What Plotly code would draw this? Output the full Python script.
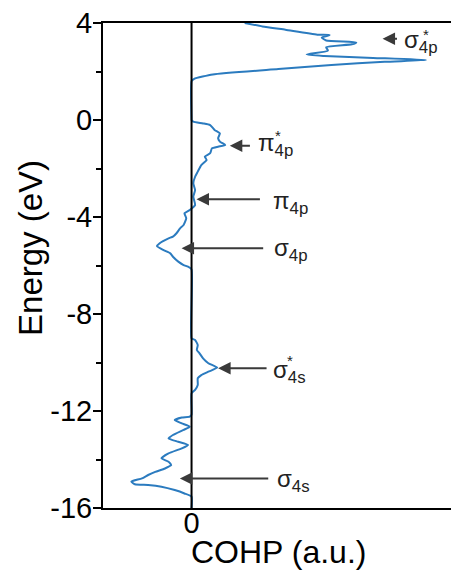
import plotly.graph_objects as go

# COHP curve (energy in eV, COHP in arbitrary units)
energy = [
    4.00, 3.86, 3.72, 3.52, 3.50, 3.40, 3.28, 3.20, 3.12, 3.00, 2.86, 2.70, 2.64, 2.56, 2.47, 2.40, 2.27, 2.10, 1.88, 1.70, 1.60,
    0.02,
    0.00, -0.07, -0.14, -0.21, -0.41, -0.55, -0.75, -0.89, -1.03, -1.10, -1.17, -1.37, -1.51, -1.65, -1.86, -2.13, -2.34,
    -2.61, -2.89, -3.16, -3.51, -3.71, -3.85, -4.05, -4.33, -4.47, -4.67, -4.81, -4.88, -5.08, -5.20, -5.36, -5.50, -5.64,
    -5.84, -5.98, -6.05, -6.16,
    -9.00, -9.07, -9.28, -9.48, -9.62, -9.83, -10.03, -10.21, -10.38, -10.52, -10.65, -10.93, -11.13, -11.27,
    -12.15, -12.23, -12.27, -12.37, -12.51, -12.65, -12.78, -12.99, -13.13, -13.27, -13.40, -13.54, -13.75, -13.95, -14.09,
    -14.23, -14.37, -14.51, -14.64, -14.78, -14.91, -15.02, -15.05, -15.12, -15.26, -15.40, -15.53, -16.00,
]
cohp = [
    0.60, 0.80, 1.06, 1.42, 1.56, 1.47, 1.52, 1.86, 1.81, 1.52, 1.54, 1.30, 1.50, 2.05, 2.65, 2.18, 1.58, 0.98, 0.24, 0.03, 0.00,
    0.00,
    0.00, 0.02, 0.13, 0.21, 0.26, 0.32, 0.30, 0.32, 0.38, 0.30, 0.23, 0.21, 0.15, 0.17, 0.11, 0.07, 0.04,
    0.02, 0.04, 0.02, 0.04, -0.02, -0.08, -0.06, -0.09, -0.13, -0.17, -0.21, -0.26, -0.36, -0.39, -0.32, -0.24, -0.21,
    -0.15, -0.09, -0.04, 0.00,
    0.00, 0.04, 0.07, 0.06, 0.09, 0.13, 0.19, 0.29, 0.19, 0.11, 0.07, 0.07, 0.04, 0.00,
    0.00, -0.02, -0.11, -0.19, -0.11, -0.02, -0.09, -0.21, -0.26, -0.15, -0.04, -0.11, -0.26, -0.34, -0.26,
    -0.23, -0.30, -0.41, -0.49, -0.56, -0.68, -0.64, -0.49, -0.34, -0.19, -0.08, 0.00, 0.00,
]

y_ticks = [-16, -12, -8, -4, 0, 4]
x_ticks = [0]

# Orbital labels: arrow tip, arrow tail, energy, label text, label position
labels = ["σ<sub>4p</sub>", "π<sub>4p</sub>", "π<sub>4p</sub>", "σ<sub>4p</sub>", "σ<sub>4s</sub>", "σ<sub>4s</sub>"]
arrow_tip = [2.157, 0.432, 0.056, -0.113, 0.30, -0.132]
arrow_tail = [2.337, 0.676, 0.789, 0.826, 0.864, 0.883]
arrow_e = [3.353, -1.06, -3.27, -5.29, -10.24, -14.78]
label_x = [2.371, 0.725, 0.894, 0.913, 0.894, 0.939]
label_e = [3.22, -1.03, -3.42, -5.36, -10.37, -14.85]
star_x = [2.653, 0.973, 1.108]
star_e = [3.53, -0.64, -9.92]

FONT = "Liberation Sans, Arial, sans-serif"
ARROW = "#3a3a3a"

fig = go.Figure()
fig.add_trace(go.Scatter(
    x=cohp, y=energy, mode="lines",
    line=dict(color="#2b7bbf", width=2, shape="spline", smoothing=0.5),
    hoverinfo="skip", showlegend=False,
))

fig.add_shape(type="line", xref="x", yref="y", x0=0, x1=0, y0=-16, y1=4,
              line=dict(color="black", width=2), layer="above")

ann = []
for tip, tail, e in zip(arrow_tip, arrow_tail, arrow_e):
    ann.append(dict(x=tip, y=e, ax=tail, ay=e, xref="x", yref="y", axref="x", ayref="y",
                    text="", showarrow=True, arrowhead=2, arrowsize=1.25, arrowwidth=2,
                    arrowcolor=ARROW, standoff=0, startstandoff=0))
for t, lx, le in zip(labels, label_x, label_e):
    ann.append(dict(x=lx, y=le, xref="x", yref="y", text=t, showarrow=False,
                    xanchor="left", yanchor="middle", font=dict(family=FONT, size=24, color="#222")))
for sx, se in zip(star_x, star_e):
    ann.append(dict(x=sx, y=se, xref="x", yref="y", text="*", showarrow=False,
                    xanchor="center", yanchor="middle", font=dict(family=FONT, size=15, color="#222")))

ann.append(dict(x=0.503, y=0, xref="paper", yref="paper", yshift=-44, text="COHP (a.u.)",
                showarrow=False, xanchor="center", yanchor="middle",
                font=dict(family=FONT, size=32, color="black")))
ann.append(dict(x=-0.21, y=0.536, xref="paper", yref="paper", text="Energy (eV)", textangle=-90,
                showarrow=False, xanchor="center", yanchor="middle",
                font=dict(family=FONT, size=33, color="black")))

fig.update_layout(
    width=451, height=579,
    margin=dict(l=103, r=0, t=23, b=71),
    paper_bgcolor="white", plot_bgcolor="white",
    annotations=ann,
    xaxis=dict(range=[-1, 2.93], tickvals=x_ticks, ticktext=[str(v) for v in x_ticks],
               showgrid=False, zeroline=False, showline=True, linecolor="black", linewidth=2,
               mirror=True, ticks="", ticklabelstandoff=-12,
               tickfont=dict(family=FONT, size=29, color="black")),
    yaxis=dict(range=[-16, 4], tickvals=y_ticks, ticktext=[str(v) for v in y_ticks],
               showgrid=False, zeroline=False, showline=True, linecolor="black", linewidth=2,
               ticks="outside", ticklen=8, tickwidth=2, tickcolor="black", ticklabelstandoff=-5,
               minor=dict(tickvals=[-14, -10, -6, -2, 2], ticks="outside", ticklen=5, tickwidth=2, tickcolor="black"),
               tickfont=dict(family=FONT, size=29, color="black")),
)

fig.write_html("out.html")
